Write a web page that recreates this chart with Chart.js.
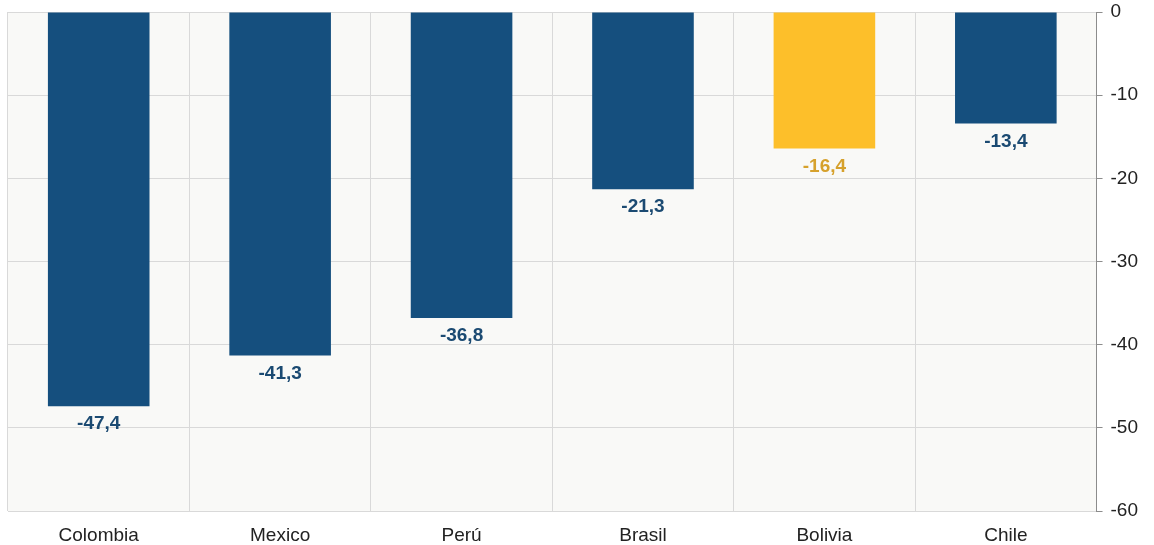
<!DOCTYPE html>
<html>
<head>
<meta charset="utf-8">
<script src="https://cdn.jsdelivr.net/npm/chart.js@4/dist/chart.umd.min.js"></script>
<style>
  html, body { margin: 0; padding: 0; background: #fff; }
  #wrap { width: 1154px; height: 545px; }
</style>
</head>
<body>
<div id="wrap"><canvas id="chart"></canvas></div>
<script>
// data
const countries = ['Colombia', 'Mexico', 'Perú', 'Brasil', 'Bolivia', 'Chile'];
const values = [-47.4, -41.3, -36.8, -21.3, -16.4, -13.4];
const highlight = 'Bolivia';

const blue = '#154f7e';
const yellow = '#fdbf2a';
const barColors = countries.map(c => c === highlight ? yellow : blue);
const labelColors = countries.map(c => c === highlight ? '#d6a12c' : '#1b4a72');

// plot area background
const areaBg = {
  id: 'areaBg',
  beforeDraw(chart) {
    const { ctx, chartArea: a } = chart;
    ctx.save();
    ctx.fillStyle = '#f9f9f7';
    ctx.fillRect(a.left, a.top, a.right - a.left, a.bottom - a.top);
    ctx.restore();
  }
};

// value labels under bar ends
const valueLabels = {
  id: 'valueLabels',
  afterDatasetsDraw(chart) {
    const { ctx } = chart;
    const meta = chart.getDatasetMeta(0);
    ctx.save();
    ctx.font = 'bold 19px "Liberation Sans", Arial, sans-serif';
    ctx.textAlign = 'center';
    ctx.textBaseline = 'middle';
    meta.data.forEach((bar, i) => {
      ctx.fillStyle = labelColors[i];
      const txt = values[i].toFixed(1).replace('.', ',');
      ctx.fillText(txt, bar.x, bar.y + 18);
    });
    ctx.restore();
  }
};

new Chart(document.getElementById('chart'), {
  type: 'bar',
  data: {
    labels: countries,
    datasets: [{
      data: values,
      backgroundColor: barColors,
      borderWidth: 0,
      barPercentage: 0.56,
      categoryPercentage: 1
    }]
  },
  options: {
    responsive: true,
    maintainAspectRatio: false,
    animation: false,
    layout: { padding: { left: 8, top: 12, right: 8, bottom: 0 } },
    plugins: { legend: { display: false }, tooltip: { enabled: false } },
    scales: {
      x: {
        grid: { color: '#d9d9d9', drawTicks: false, offset: true },
        border: { color: '#d9d9d9' },
        ticks: {
          color: '#222',
          padding: 13,
          font: { size: 19, family: '"Liberation Sans", Arial, sans-serif' }
        },
        afterFit(scale) { scale.height = 34; }
      },
      y: {
        position: 'right',
        min: -60,
        max: 0,
        grid: { color: '#d9d9d9', tickColor: '#8c8c8c', tickLength: 6 },
        border: { color: '#8c8c8c' },
        ticks: {
          stepSize: 10,
          color: '#222',
          padding: 8,
          font: { size: 19, family: '"Liberation Sans", Arial, sans-serif' }
        },
        afterFit(scale) { scale.paddingTop = 0; scale.paddingBottom = 0; }
      }
    }
  },
  plugins: [areaBg, valueLabels]
});
</script>
</body>
</html>
